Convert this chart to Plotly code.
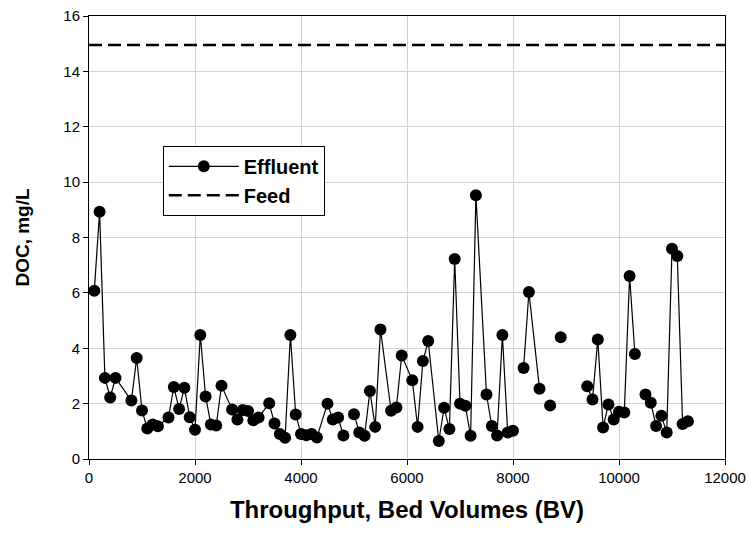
import plotly.graph_objects as go

# Throughput (BV); None marks a missing sample (line break)
bv = [100, 200, 300, 400, 500, 800, 900, 1000, 1100, 1200, 1300, 1500, 1600, 1700,
      1800, 1900, 2000, 2100, 2200, 2300, 2400, 2500, 2700, 2800, 2900, 3000, 3100,
      3200, 3400, 3500, 3600, 3700, 3800, 3900, 4000, 4100, 4200, 4300, 4500, 4600,
      4700, 4800, None, 5000, 5100, 5200, 5300, 5400, 5500, 5700, 5800, 5900, 6100,
      6200, 6300, 6400, 6600, 6700, 6800, 6900, 7000, 7100, 7200, 7300, 7500, 7600,
      7700, 7800, 7900, 8000, None, 8200, 8300, 8500, None, 8700, None, 8900, None,
      9400, 9500, 9600, 9700, 9800, 9900, 10000, 10100, 10200, 10300, None, 10500,
      10600, 10700, 10800, 10900, 11000, 11100, 11200, 11300]

effluent_doc = [6.08, 8.93, 2.93, 2.22, 2.93, 2.11, 3.65, 1.75, 1.10, 1.25, 1.18, 1.50,
                2.60, 1.81, 2.57, 1.51, 1.06, 4.48, 2.26, 1.25, 1.21, 2.65, 1.79, 1.43,
                1.77, 1.73, 1.40, 1.50, 2.01, 1.28, 0.90, 0.77, 4.48, 1.61, 0.90, 0.86,
                0.90, 0.78, 2.00, 1.43, 1.50, 0.85, None, 1.62, 0.96, 0.84, 2.46, 1.16,
                4.68, 1.74, 1.86, 3.74, 2.84, 1.16, 3.54, 4.26, 0.65, 1.85, 1.08, 7.22,
                2.00, 1.92, 0.84, 9.53, 2.33, 1.19, 0.85, 4.48, 0.96, 1.02, None, 3.29,
                6.03, 2.54, None, 1.93, None, 4.40, None, 2.63, 2.15, 4.32, 1.14, 1.97,
                1.43, 1.71, 1.68, 6.61, 3.79, None, 2.33, 2.03, 1.19, 1.56, 0.96, 7.59,
                7.33, 1.26, 1.36]

feed_bv = [0, 12000]
feed_doc = [14.95, 14.95]

x_ticks = [0, 2000, 4000, 6000, 8000, 10000, 12000]
x_tick_text = ["0", "2000", "4000", "6000", "8000", "10000", "12000"]
y_ticks = [0, 2, 4, 6, 8, 10, 12, 14, 16]

fig = go.Figure()
fig.add_trace(go.Scatter(
    x=bv, y=effluent_doc, name="Effluent", mode="lines+markers",
    connectgaps=False,
    line=dict(color="black", width=1.2),
    marker=dict(color="black", size=12, symbol="circle"),
))
fig.add_trace(go.Scatter(
    x=feed_bv, y=feed_doc, name="Feed", mode="lines",
    line=dict(color="black", width=2.5, dash="13px,6px"),
))

font_family = "Liberation Sans, Arial, sans-serif"
fig.update_layout(
    width=750, height=535,
    margin=dict(l=89, r=25, t=16, b=76, autoexpand=False),
    paper_bgcolor="white", plot_bgcolor="white",
    font=dict(family=font_family, color="black", size=15),
    showlegend=True,
    legend=dict(
        x=0.116, y=0.707, xanchor="left", yanchor="top",
        bgcolor="white", bordercolor="black", borderwidth=1,
        font=dict(family=font_family, size=20, color="black", weight="bold"),
        itemwidth=70,
    ),
    xaxis=dict(
        range=[0, 12000], tickvals=x_ticks, ticktext=x_tick_text,
        automargin=False,
        showgrid=True, gridcolor="#d3d3d3", gridwidth=1,
        showline=True, linecolor="black", linewidth=1, mirror=True,
        ticks="outside", ticklen=5, tickcolor="black",
        zeroline=False,
        tickfont=dict(size=15),
        title=dict(text="Throughput, Bed Volumes (BV)", standoff=16,
                   font=dict(size=24, weight="bold")),
    ),
    yaxis=dict(
        range=[0, 16], tickvals=y_ticks,
        automargin=False,
        showgrid=True, gridcolor="#d3d3d3", gridwidth=1,
        showline=True, linecolor="black", linewidth=1, mirror=True,
        ticks="outside", ticklen=5, tickcolor="black",
        zeroline=False,
        tickfont=dict(size=15),
        title=dict(text="DOC, mg/L", standoff=28,
                   font=dict(size=19, weight="bold")),
    ),
)

fig.write_html("out.html")
